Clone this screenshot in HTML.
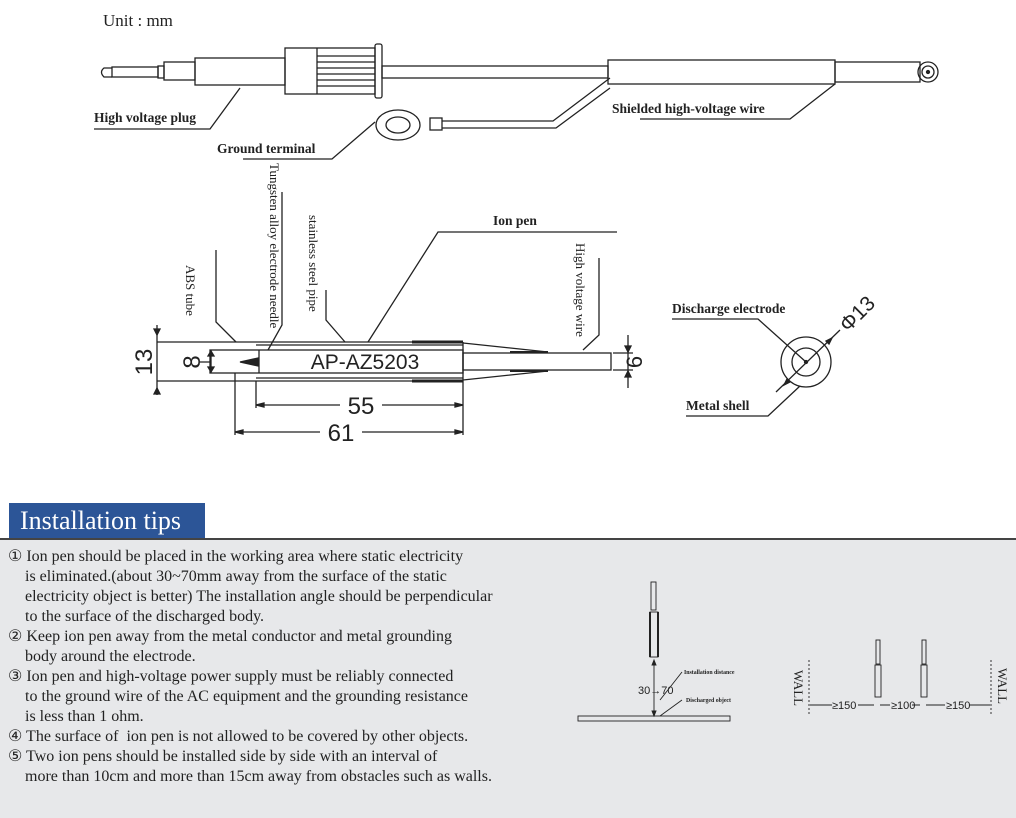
<!DOCTYPE html>
<html><head><meta charset="utf-8"><style>
body{margin:0;width:1016px;height:816px;background:#fff;overflow:hidden;position:relative;font-family:"Liberation Serif",serif}
svg{position:absolute;left:0;top:0}
.t{font-family:"Liberation Serif",serif;font-size:13.5px;font-weight:bold;fill:#222}
.v{font-family:"Liberation Serif",serif;font-size:13px;fill:#222}
.d{font-family:"Liberation Sans",sans-serif;fill:#222}
#grey{position:absolute;left:0;top:538px;width:1016px;height:278px;background:#e7e8ea;border-top:2px solid #444}
#hdr{position:absolute;left:9px;top:503px;width:196px;height:35px;background:#2c5597;color:#fff;font-size:26px;line-height:35px;padding-left:11px;box-sizing:border-box}
#tips{position:absolute;left:8px;top:547px;font-size:16px;line-height:20px;color:#222;white-space:nowrap}
#tips div.c{padding-left:17px}
</style></head><body>
<div id="grey"></div>
<div id="hdr">Installation tips</div>
<div id="tips">
<div>① Ion pen should be placed in the working area where static electricity</div>
<div class="c">is eliminated.(about 30~70mm away from the surface of the static</div>
<div class="c">electricity object is better) The installation angle should be perpendicular</div>
<div class="c">to the surface of the discharged body.</div>
<div>② Keep ion pen away from the metal conductor and metal grounding</div>
<div class="c">body around the electrode.</div>
<div>③ Ion pen and high-voltage power supply must be reliably connected</div>
<div class="c">to the ground wire of the AC equipment and the grounding resistance</div>
<div class="c">is less than 1 ohm.</div>
<div>④ The surface of &nbsp;ion pen is not allowed to be covered by other objects.</div>
<div>⑤ Two ion pens should be installed side by side with an interval of</div>
<div class="c">more than 10cm and more than 15cm away from obstacles such as walls.</div>
</div>
<svg width="1016" height="816" viewBox="0 0 1016 816" fill="none" stroke="#222" stroke-width="1.3">
<text x="103" y="26" style="font-family:'Liberation Serif',serif;font-size:17px;fill:#222;stroke:none">Unit : mm</text>
<!-- plug -->
<path d="M112 68 L104 68 Q99 72 104 77 L112 77"/>
<rect x="112" y="67" width="46" height="10"/>
<rect x="158" y="66" width="6" height="12"/>
<rect x="164" y="62" width="31" height="18"/>
<rect x="195" y="58" width="90" height="27"/>
<rect x="285" y="48" width="90" height="46"/>
<line x1="317" y1="48" x2="317" y2="94"/>
<path d="M317 56H375M317 62H375M317 68H375M317 74H375M317 80H375M317 86H375"/>
<rect x="375" y="44" width="7" height="54" rx="2"/>
<rect x="382" y="66" width="226" height="12"/>
<rect x="608" y="60" width="227" height="24"/>
<rect x="835" y="62" width="85" height="20"/>
<circle cx="928" cy="72" r="10"/><circle cx="928" cy="72" r="6"/><circle cx="928" cy="72" r="1.5" fill="#222"/>
<!-- ground -->
<ellipse cx="398" cy="125" rx="22" ry="15"/><ellipse cx="398" cy="125" rx="12" ry="8"/>
<rect x="430" y="118" width="12" height="12"/>
<path d="M442 121H553L610 78M442 128H556L610 88"/>
<!-- labels top -->
<text x="94" y="122" class="t" stroke="none">High voltage plug</text>
<path d="M94 129H210L240 88"/>
<text x="217" y="153" class="t" stroke="none">Ground terminal</text>
<path d="M243 159H332L375 122"/>
<text x="612" y="113" class="t" stroke="none">Shielded high-voltage wire</text>
<path d="M640 119H790L835 84"/>
<!-- pen -->
<path d="M157 342H463M157 381H463M256 345H463M256 378H463"/>
<rect x="210" y="350" width="253" height="23"/>
<line x1="259" y1="350" x2="259" y2="373"/>
<path d="M412 342H463M412 381H463" stroke-width="3"/>
<path d="M463 342V381"/>
<path d="M463 343L548 352M463 380L548 371"/>
<rect x="463" y="353" width="148" height="17"/>
<path d="M510 352H548M510 371H548" stroke-width="2"/>
<path d="M240 362L258 358L258 366Z" fill="#222"/>
<text x="365" y="369" text-anchor="middle" class="d" stroke="none" font-size="21">AP-AZ5203</text>
<!-- dims -->
<path d="M157 325V395M211 350V373M200 362H211"/>
<path d="M157 335l-3-6h6zM157 388l-3 6h6zM211 351l-3 5h6zM211 372l-3-5h6z" fill="#222"/>
<text transform="translate(152 362) rotate(-90)" text-anchor="middle" class="d" stroke="none" font-size="24">13</text>
<text transform="translate(200 362) rotate(-90)" text-anchor="middle" class="d" stroke="none" font-size="24">8</text>
<path d="M613 353H633M613 370H633M628 335V388"/>
<path d="M628 352l-3-6h6zM628 371l-3 6h6z" fill="#222"/>
<text transform="translate(642 362) rotate(-90)" text-anchor="middle" class="d" stroke="none" font-size="22">6</text>
<path d="M256 381V408M463 381V435M235 373V435M256 405H340M382 405H463M235 432H320M362 432H463"/>
<path d="M256 405l8-2v4zM463 405l-8-2v4zM235 432l8-2v4zM463 432l-8-2v4z" fill="#222"/>
<text x="361" y="414" text-anchor="middle" class="d" stroke="none" font-size="24">55</text>
<text x="341" y="441" text-anchor="middle" class="d" stroke="none" font-size="24">61</text>
<!-- leaders -->
<path d="M216 250V322L236 342M282 192V325L268 350M326 290V320L345 342M368 342L438 232H617M599 258V335L583 350"/>
<text transform="translate(270 163) rotate(90)" class="v" stroke="none">Tungsten alloy electrode needle</text>
<text transform="translate(309 215) rotate(90)" class="v" stroke="none">stainless steel pipe</text>
<text transform="translate(186 265) rotate(90)" class="v" stroke="none">ABS tube</text>
<text transform="translate(576 243) rotate(90)" class="v" stroke="none">High voltage wire</text>
<text x="493" y="225" class="t" stroke="none">Ion pen</text>
<!-- electrode -->
<circle cx="806" cy="362" r="25"/><circle cx="806" cy="362" r="14"/><circle cx="806" cy="362" r="1.5" fill="#222"/>
<path d="M776 392L840 330"/>
<path d="M832 338l-6 3 3 3zM784 385l6-3-3-3z" fill="#222"/>
<text transform="translate(848 333) rotate(-45)" class="d" stroke="none" font-size="21">Φ13</text>
<text x="672" y="313" class="t" stroke="none">Discharge electrode</text>
<path d="M672 319H758L806 362"/>
<text x="686" y="410" class="t" stroke="none">Metal shell</text>
<path d="M686 416H768L800 386"/>
<!-- install diagram 1 -->
<g stroke-width="0.9">
<rect x="651" y="582" width="5" height="28"/>
<rect x="650" y="612" width="8" height="45"/>
<path d="M650 612v45M658 612v45" stroke-width="2"/>
<path d="M654 662V716"/>
<path d="M654 660l-2 5h4zM654 716l-2-5h4z" fill="#222"/>
<rect x="578" y="716" width="152" height="5"/>
<path d="M660 700L682 672M660 716L682 700"/>
</g>
<text x="638" y="694" class="d" stroke="none" font-size="11">30→70</text>
<text transform="translate(684 674) scale(0.45)" class="v" stroke="none" font-size="12" font-weight="bold">Installation distance</text>
<text transform="translate(686 702) scale(0.45)" class="v" stroke="none" font-size="12" font-weight="bold">Discharged object</text>
<!-- install diagram 2 -->
<g stroke-width="0.9">
<path d="M809 660V716M991 660V716" stroke-dasharray="2 2"/>
<rect x="876" y="640" width="4" height="24"/><rect x="875" y="665" width="6" height="32"/>
<rect x="922" y="640" width="4" height="24"/><rect x="921" y="665" width="6" height="32"/>
<path d="M810 705H832M858 705H874M880 705H890M912 705H920M926 705H945M969 705H990"/>
</g>
<text x="832" y="709" class="d" stroke="none" font-size="11">≥150</text>
<text x="891" y="709" class="d" stroke="none" font-size="11">≥100</text>
<text x="946" y="709" class="d" stroke="none" font-size="11">≥150</text>
<text transform="translate(794 670) rotate(90)" class="v" stroke="none" font-size="9">WALL</text>
<text transform="translate(998 668) rotate(90)" class="v" stroke="none" font-size="9">WALL</text>
</svg>
</body></html>
